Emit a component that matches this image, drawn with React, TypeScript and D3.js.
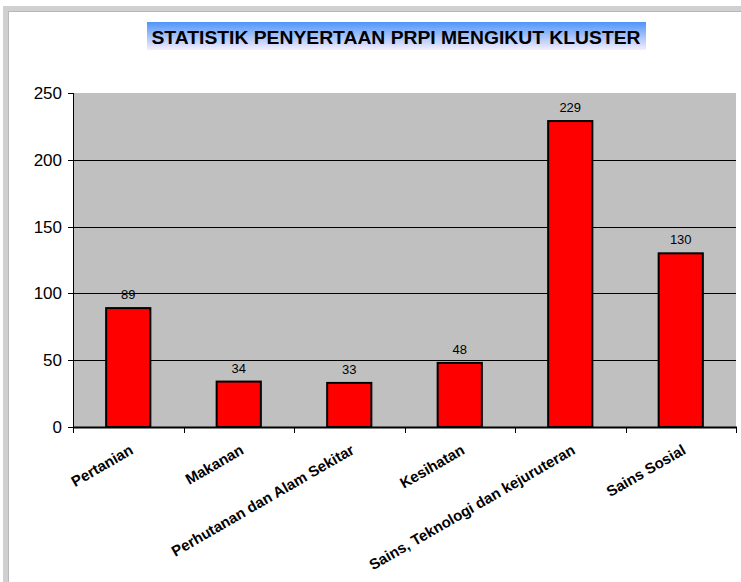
import { useEffect, useRef } from "react";
import * as d3 from "d3";

const categories = [
  "Pertanian",
  "Makanan",
  "Perhutanan dan Alam Sekitar",
  "Kesihatan",
  "Sains, Teknologi dan kejuruteran",
  "Sains Sosial",
];
const values = [89, 34, 33, 48, 229, 130];
const yTicks = [0, 50, 100, 150, 200, 250];
const title = "STATISTIK PENYERTAAN PRPI MENGIKUT KLUSTER";

const W = 741;
const H = 582;

export default function App() {
  const ref = useRef<SVGSVGElement>(null);

  useEffect(() => {
    const svg = d3.select(ref.current);
    svg.selectAll("*").remove();

    const plot = { left: 73, right: 736, top: 93, bottom: 427 };

    // frame
    svg.append("rect").attr("x", 0).attr("y", 0).attr("width", W).attr("height", H).attr("fill", "#fff");
    svg.append("rect").attr("x", 3).attr("y", 6).attr("width", W - 3).attr("height", 5).attr("fill", "#d0d0d0");
    svg.append("rect").attr("x", 3).attr("y", 6).attr("width", 5).attr("height", H - 6).attr("fill", "#d0d0d0");
    svg.append("line").attr("x1", 8).attr("x2", W).attr("y1", 11.5).attr("y2", 11.5).attr("stroke", "#b8b8b8");
    svg.append("line").attr("x1", 8.5).attr("x2", 8.5).attr("y1", 11).attr("y2", H).attr("stroke", "#b8b8b8");

    // title
    const defs = svg.append("defs");
    const grad = defs
      .append("linearGradient")
      .attr("id", "tg")
      .attr("x1", 0)
      .attr("x2", 0)
      .attr("y1", 0)
      .attr("y2", 1);
    grad.append("stop").attr("offset", "0%").attr("stop-color", "#4f94f8");
    grad.append("stop").attr("offset", "100%").attr("stop-color", "#f6eefc");
    svg.append("rect").attr("x", 147).attr("y", 22).attr("width", 499).attr("height", 28).attr("fill", "url(#tg)");
    svg
      .append("text")
      .attr("x", 396)
      .attr("y", 44)
      .attr("text-anchor", "middle")
      .attr("textLength", 489)
      .attr("lengthAdjust", "spacingAndGlyphs")
      .style("font-family", "Arial, 'Liberation Sans', sans-serif")
      .style("font-weight", "bold")
      .style("font-size", "19px")
      .attr("fill", "#000")
      .text(title);

    const x = d3.scaleBand().domain(categories).range([plot.left, plot.right]).paddingInner(0.6).paddingOuter(0.3);
    const y = d3.scaleLinear().domain([0, 250]).range([plot.bottom, plot.top]);

    // plot background
    svg
      .append("rect")
      .attr("x", plot.left)
      .attr("y", plot.top)
      .attr("width", plot.right - plot.left)
      .attr("height", plot.bottom - plot.top)
      .attr("fill", "#c0c0c0");

    // gridlines
    svg
      .append("g")
      .selectAll("line")
      .data(yTicks.slice(1, -1))
      .enter()
      .append("line")
      .attr("x1", plot.left)
      .attr("x2", plot.right)
      .attr("y1", (d) => Math.round(y(d)) + 0.5)
      .attr("y2", (d) => Math.round(y(d)) + 0.5)
      .attr("stroke", "#000")
      .attr("stroke-width", 1);

    // bars
    svg
      .append("g")
      .selectAll("rect")
      .data(values)
      .enter()
      .append("rect")
      .attr("x", (_, i) => x(categories[i]) as number)
      .attr("y", (d) => y(d))
      .attr("width", x.bandwidth())
      .attr("height", (d) => plot.bottom - y(d))
      .attr("fill", "#ff0000")
      .attr("stroke", "#000")
      .attr("stroke-width", 2);

    // value labels
    svg
      .append("g")
      .selectAll("text")
      .data(values)
      .enter()
      .append("text")
      .attr("x", (_, i) => (x(categories[i]) as number) + x.bandwidth() / 2)
      .attr("y", (d) => y(d) - 9)
      .attr("text-anchor", "middle")
      .style("font-family", "Arial, 'Liberation Sans', sans-serif")
      .style("font-size", "13px")
      .attr("fill", "#000")
      .text((d) => d);

    // y axis
    const yAxis = svg.append("g");
    yAxis
      .append("line")
      .attr("x1", plot.left + 0.5)
      .attr("x2", plot.left + 0.5)
      .attr("y1", plot.top)
      .attr("y2", plot.bottom + 1)
      .attr("stroke", "#000");
    yAxis
      .selectAll("line.tick")
      .data(yTicks)
      .enter()
      .append("line")
      .attr("class", "tick")
      .attr("x1", plot.left - 5)
      .attr("x2", plot.left)
      .attr("y1", (d) => Math.round(y(d)) + 0.5)
      .attr("y2", (d) => Math.round(y(d)) + 0.5)
      .attr("stroke", "#000");
    yAxis
      .selectAll("text")
      .data(yTicks)
      .enter()
      .append("text")
      .attr("x", plot.left - 11)
      .attr("y", (d) => y(d) + 6)
      .attr("text-anchor", "end")
      .style("font-family", "Arial, 'Liberation Sans', sans-serif")
      .style("font-size", "17px")
      .attr("fill", "#000")
      .text((d) => d);

    // x axis
    const xAxis = svg.append("g");
    xAxis
      .append("line")
      .attr("x1", plot.left)
      .attr("x2", plot.right + 1)
      .attr("y1", plot.bottom + 0.5)
      .attr("y2", plot.bottom + 0.5)
      .attr("stroke", "#000")
      .attr("stroke-width", 2);
    const step = (plot.right - plot.left) / categories.length;
    xAxis
      .selectAll("line.tick")
      .data(d3.range(categories.length + 1))
      .enter()
      .append("line")
      .attr("class", "tick")
      .attr("x1", (i) => Math.round(plot.left + i * step) + 0.5)
      .attr("x2", (i) => Math.round(plot.left + i * step) + 0.5)
      .attr("y1", plot.bottom)
      .attr("y2", plot.bottom + 6)
      .attr("stroke", "#000");
    xAxis
      .selectAll("text")
      .data(categories)
      .enter()
      .append("text")
      .attr("transform", (d) => {
        const cx = (x(d) as number) + x.bandwidth() / 2 + 6;
        return `translate(${cx}, ${plot.bottom + 26}) rotate(-30)`;
      })
      .attr("text-anchor", "end")
      .style("font-family", "Arial, 'Liberation Sans', sans-serif")
      .style("font-weight", "bold")
      .style("font-size", "15px")
      .attr("fill", "#000")
      .text((d) => d);
  }, []);

  return (
    <div style={{ position: "absolute", left: 0, top: 0 }}>
      <svg ref={ref} width={W} height={H} />
    </div>
  );
}
